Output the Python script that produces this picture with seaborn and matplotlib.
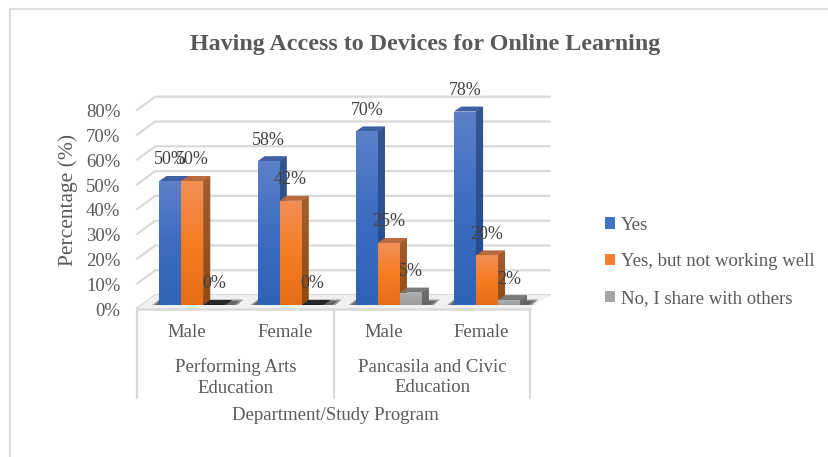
import matplotlib
matplotlib.use("Agg")
import matplotlib.pyplot as plt
import matplotlib.transforms as mtrans
from matplotlib.colors import LinearSegmentedColormap
from matplotlib.patches import Patch, Polygon
import numpy as np
import pandas as pd
import seaborn as sns

# Survey results, one value per subgroup
subgroups = ["Male", "Female", "Male", "Female"]
departments = ["Performing Arts\nEducation", "Pancasila and Civic\nEducation"]
yes = [50, 58, 70, 78]
yes_not_well = [50, 42, 25, 20]
shared = [0, 0, 5, 2]
responses = ["Yes", "Yes, but not working well", "No, I share with others"]
y_ticks = [0, 10, 20, 30, 40, 50, 60, 70, 80]

TITLE = "Having Access to Devices for Online Learning"
X_TITLE = "Department/Study Program"
Y_TITLE = "Percentage (%)"

W, H = 829, 457
sns.set_theme(style="white")
plt.rcParams["font.family"] = ["Liberation Serif", "DejaVu Serif"]

TEXT = "#595959"
LABEL = "#404040"
GRID = "#d9d9d9"
FS = 13.5

# front gradient stops, legend colour, top face, side gradient stops
shades = {
    responses[0]: dict(front=["#5c80c9", "#3d6cc0", "#2f63b8"], solid="#4472c4",
                       top="#3f5fa3", side=["#34558f", "#224b8e"]),
    responses[1]: dict(front=["#f28e55", "#f57d23", "#e56d17"], solid="#f58032",
                       top="#b96a3c", side=["#a45c30", "#8f4c12"]),
    responses[2]: dict(front=["#b0b0b0", "#a5a5a5", "#9c9c9c"], solid="#a5a5a5",
                       top="#7a7a7a", side=["#707070", "#666666"]),
}

table = pd.DataFrame({
    "group": list(range(len(subgroups))) * 3,
    "response": np.repeat(responses, len(subgroups)),
    "value": yes + yes_not_well + shared,
})

fig = plt.figure(figsize=(W / 100, H / 100), dpi=100, facecolor="white")
ax = fig.add_axes([143.2 / W, (H - 305) / H, 393 / W, 198.4 / H])
sns.barplot(data=table, x="group", y="value", hue="response", hue_order=responses,
            palette=[shades[r]["solid"] for r in responses], saturation=1,
            width=0.67, legend=False, edgecolor="none", linewidth=0, ax=ax)
bars = list(ax.patches)
ax.set_xlim(-0.5, 3.5)
ax.set_ylim(0, 80)
xlim, ylim = ax.get_xlim(), ax.get_ylim()
sns.despine(ax=ax, left=True, bottom=True)
ax.patch.set_alpha(0)

# conversions from pixel lengths to data units
px_x = (xlim[1] - xlim[0]) / 393
px_y = (ylim[1] - ylim[0]) / 198.4
dx, dy = 7 * px_x, 5 * px_y


def poly(points, color, z, **kw):
    p = Polygon(points, closed=True, facecolor=color, edgecolor="none",
                zorder=z, clip_on=False, **kw)
    ax.add_patch(p)
    return p


def gradient_fill(clip, x0, x1, y0, y1, stops, z):
    cmap = LinearSegmentedColormap.from_list("shade", stops)
    im = ax.imshow(np.linspace(0, 1, 64).reshape(-1, 1), cmap=cmap, vmin=0, vmax=1,
                   extent=[x0, x1, y0, y1], origin="upper", aspect="auto",
                   zorder=z, interpolation="bilinear")
    im.set_clip_box(fig.bbox)
    im.set_clip_path(clip)


# chart frame
fig.add_artist(plt.Line2D([10 / W, 10 / W, 1], [0, (H - 8.5) / H, (H - 8.5) / H],
                          color="#dedede", lw=1.6))

# walls and floor
wall_front_l = xlim[0] - 6.2 * px_x
wall_back_l = xlim[0] + 12 * px_x
wall_back_r = xlim[1] + 13.5 * px_x
wall_front_r = xlim[1] - 6 * px_x
back_y = 4.0
front_y = -1.4
for v in y_ticks:
    ax.plot([wall_front_l, wall_back_l, wall_back_r], [v + front_y, v + back_y, v + back_y],
            color=GRID, lw=1.6, zorder=1, clip_on=False, solid_joinstyle="miter")
poly([(wall_front_l, front_y), (wall_back_l, back_y), (wall_back_r, back_y), (wall_front_r, front_y)],
     "#f0f0f0", 1.2)

# frame of the multi-level category axis
floor_low = -1.6
axis_bottom = -37.5
ax.plot([wall_front_l, wall_front_r], [floor_low, floor_low], color=GRID, lw=1.8, zorder=1.4, clip_on=False)
mid_sep = (wall_front_l + wall_front_r) / 2
for xs in (wall_front_l, mid_sep, wall_front_r):
    ax.plot([xs, xs], [floor_low, axis_bottom], color=GRID, lw=1.6, zorder=1.4, clip_on=False)

# soft shadow on the floor for each group of bars
for g in range(len(subgroups)):
    left = g - 0.335
    right = g + 0.335
    poly([(left - 7 * px_x, 0), (left, 2.2), (right + 18 * px_x, 2.2), (right + 12 * px_x, 0)],
         "#3a3a3a", 1.6, alpha=0.5)
    poly([(left - 4 * px_x, 0), (left, 1.6), (right + 14 * px_x, 1.6), (right + 9 * px_x, 0)],
         "#2a2a2a", 1.7, alpha=0.45)

# bars, painted left to right so neighbours overlap correctly
ordered = sorted(zip(bars, table["response"], table["value"]), key=lambda t: t[0].get_x())
for rank, (bar, resp, val) in enumerate(ordered):
    s = shades[resp]
    x0, x1 = bar.get_x(), bar.get_x() + bar.get_width()
    z = 3 + rank * 0.1
    top_color = "#262626" if val == 0 else s["top"]
    poly([(x0, val), (x0 + dx, val + dy), (x1 + dx, val + dy), (x1, val)], top_color, z)
    if val == 0:
        bar.set_visible(False)
        continue
    side = poly([(x1, 0), (x1 + dx, dy), (x1 + dx, val + dy), (x1, val)], s["side"][0], z)
    gradient_fill(side, x1, x1 + dx, 0, val + dy, s["side"], z + 0.01)
    bar.set_zorder(z + 0.02)
    gradient_fill(bar, x0, x1, 0, val, s["front"], z + 0.03)

# value labels sit a fixed distance above each bar
for bar, _, val in ordered:
    ax.annotate(f"{val}%", (bar.get_x() + bar.get_width() / 2, val), xytext=(0, 21),
                textcoords="offset pixels", ha="center", va="center",
                color=LABEL, fontsize=13, zorder=20, annotation_clip=False)

ax.set_xlim(xlim)
ax.set_ylim(ylim)

# tick labels
ax.set_yticks(y_ticks, [f"{v}%" for v in y_ticks])
ax.set_xticks(range(len(subgroups)), subgroups)
ax.tick_params(axis="y", length=0, pad=16.5, labelsize=FS, labelcolor=TEXT)
ax.tick_params(axis="x", length=0, pad=13.7, labelsize=FS, labelcolor=TEXT)
shift_y = mtrans.ScaledTranslation(0, -4 / 100, fig.dpi_scale_trans)
shift_x = mtrans.ScaledTranslation(-5.5 / 100, 0, fig.dpi_scale_trans)
for lab in ax.get_yticklabels():
    lab.set_transform(lab.get_transform() + shift_y)
for lab in ax.get_xticklabels():
    lab.set_transform(lab.get_transform() + shift_x)

# department names beneath each pair of subgroups
for i, name in enumerate(departments):
    ax.text(2 * i + 0.5 - 5.5 * px_x, -29.2, name, ha="center", va="center", multialignment="center",
            color=TEXT, fontsize=FS, linespacing=1.27, clip_on=False)

ax.set_xlabel(X_TITLE, color=TEXT, fontsize=FS, va="center")
ax.xaxis.set_label_coords((335 - 143.2) / 393, (305 - 416) / 198.4)
ax.set_ylabel(Y_TITLE, color=TEXT, fontsize=15.5, va="center")
ax.yaxis.set_label_coords((68 - 143.2) / 393, (305 - 200) / 198.4)

fig.text(425.5 / W, (H - 44.5) / H, TITLE, ha="center", va="center",
         color=TEXT, fontsize=17.3, fontweight="bold")

# legend at the right of the plot
ax.legend(handles=[Patch(facecolor=shades[r]["solid"], edgecolor="none", label=r) for r in responses],
          loc="center left", bbox_to_anchor=(605 / W, (H - 262) / H), bbox_transform=fig.transFigure,
          frameon=False, fontsize=FS, labelcolor=TEXT, labelspacing=1.06,
          handlelength=0.53, handleheight=0.53, handletextpad=0.3, borderpad=0, borderaxespad=0)

fig.savefig("out.png", dpi=100, facecolor="white")
